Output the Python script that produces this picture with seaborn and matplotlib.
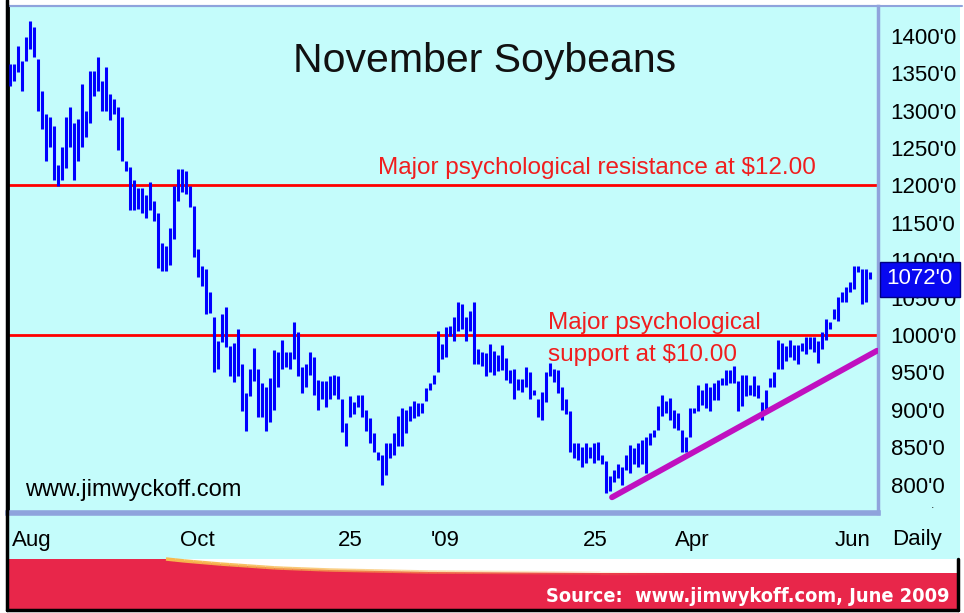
import numpy as np
import matplotlib
matplotlib.use("Agg")
import matplotlib.pyplot as plt
import seaborn as sns
from matplotlib.patches import Rectangle, Polygon
from matplotlib.lines import Line2D
from matplotlib.collections import LineCollection
from matplotlib.transforms import blended_transform_factory
from matplotlib import font_manager
from matplotlib.font_manager import FontProperties

# ---------------- data (daily bars, Aug 2008 - Jun 2009) ----------------
highs = [1362, 1362, 1387, 1367, 1399, 1420, 1412, 1369, 1327, 1296,
         1292, 1279, 1227, 1252, 1292, 1305, 1283, 1289, 1336, 1300,
         1353, 1353, 1372, 1340, 1359, 1322, 1316, 1305, 1292, 1233,
         1225, 1207, 1196, 1196, 1187, 1205, 1179, 1163, 1123, 1119,
         1143, 1199, 1222, 1222, 1219, 1199, 1172, 1115, 1092, 1088,
         1057, 1024, 992, 1028, 1037, 985, 990, 1008, 961, 923,
         954, 983, 954, 936, 931, 943, 980, 977, 994, 977,
         977, 1017, 1004, 957, 961, 977, 970, 940, 938, 938,
         945, 947, 945, 914, 883, 918, 911, 920, 920, 900,
         889, 869, 843, 839, 856, 856, 869, 892, 903, 900,
         905, 912, 909, 909, 929, 936, 947, 1005, 988, 1011,
         1012, 1024, 1044, 1041, 1024, 1032, 1044, 981, 977, 976,
         988, 979, 973, 987, 969, 953, 955, 941, 941, 957,
         950, 927, 914, 924, 950, 963, 955, 953, 931, 914,
         898, 856, 856, 850, 856, 850, 856, 857, 840, 831,
         811, 820, 827, 823, 840, 853, 849, 856, 860, 863,
         869, 873, 905, 920, 912, 916, 900, 896, 873, 863,
         903, 903, 933, 927, 936, 930, 936, 940, 943, 953,
         953, 959, 938, 947, 947, 933, 945, 933, 911, 927,
         943, 950, 994, 990, 985, 994, 987, 987, 990, 998,
         998, 997, 992, 1004, 1021, 1017, 1035, 1051, 1057, 1064,
         1071, 1092, 1092, 1088, 1088, 1084]
lows = [1333, 1340, 1352, 1327, 1367, 1383, 1372, 1300, 1276, 1233,
        1252, 1207, 1199, 1207, 1223, 1252, 1207, 1233, 1252, 1265,
        1283, 1319, 1327, 1300, 1300, 1287, 1296, 1247, 1233, 1220,
        1167, 1167, 1169, 1163, 1156, 1167, 1153, 1089, 1085, 1085,
        1093, 1128, 1179, 1191, 1188, 1171, 1105, 1077, 1065, 1028,
        1030, 951, 954, 991, 984, 945, 937, 945, 899, 871,
        918, 938, 891, 891, 871, 884, 900, 930, 954, 957,
        954, 968, 945, 923, 931, 947, 920, 900, 914, 904,
        914, 920, 914, 870, 851, 891, 894, 904, 891, 871,
        856, 843, 833, 799, 813, 836, 839, 852, 852, 869,
        885, 889, 892, 896, 912, 927, 934, 950, 968, 971,
        999, 992, 1005, 1008, 992, 1005, 961, 961, 958, 945,
        950, 947, 952, 953, 940, 936, 914, 927, 924, 931,
        914, 920, 891, 887, 911, 945, 937, 923, 900, 894,
        844, 836, 833, 823, 829, 836, 829, 833, 827, 789,
        791, 803, 809, 800, 819, 816, 827, 823, 827, 816,
        853, 863, 873, 892, 896, 886, 876, 873, 843, 843,
        863, 896, 898, 907, 903, 898, 913, 913, 933, 933,
        936, 936, 899, 905, 919, 920, 919, 916, 887, 901,
        930, 930, 954, 954, 965, 971, 967, 961, 978, 974,
        981, 977, 963, 981, 994, 1008, 1021, 1019, 1044, 1044,
        1057, 1061, 1084, 1041, 1044, 1075]
last_price = 1072
resistance = 1200
support = 1000
trend_x = [150.5, 216.75]          # bar index
trend_y = [783, 979]               # price
y_ticks = [800, 850, 900, 950, 1000, 1050, 1100, 1150, 1200, 1250,
           1300, 1350, 1400]
tick_pos = [5.5, 46.75, 85, 108.75, 146.25, 170.5, 210.75]
tick_labels = ["Aug", "Oct", "25", "'09", "25", "Apr", "Jun"]

# ---------------- style ----------------
sns.set_style("white")
plt.rcParams["font.family"] = ["Liberation Sans", "DejaVu Sans"]


def find_narrow(bold):
    best = None
    for f in font_manager.fontManager.ttflist:
        n = (f.name + " " + f.fname).lower()
        if ("narrow" in n or "condensed" in n) and "italic" not in n and "oblique" not in n:
            is_bold = f.weight in (700, "bold") or "bold" in n
            if is_bold == bold:
                score = 0 if "liberation" in n else 1
                if best is None or score < best[0]:
                    best = (score, f.fname)
    if best:
        return FontProperties(fname=best[1])
    return FontProperties(family="Liberation Sans", weight="bold" if bold else "normal")


NARROW_B = find_narrow(True)

W, H = 964, 613
CYAN = "#C4FCFB"
SPINE = "#8FA3DC"
fig = plt.figure(figsize=(W / 100, H / 100), dpi=100, facecolor="white")


def fx(px):
    return px / W


def fy(py):
    return 1 - py / H


def frect(x0, y0, x1, y1, **kw):
    r = Rectangle((fx(x0), fy(y1)), (x1 - x0) / W, (y1 - y0) / H,
                  transform=fig.transFigure, **kw)
    fig.add_artist(r)
    return r


# backgrounds
frect(8, 5, 960, 559, facecolor=CYAN, edgecolor="none", zorder=-10)
frect(8, 559, 958, 609, facecolor="#E8264A", edgecolor="none", zorder=-9)

# white swoosh in banner
sx = np.array([166, 185, 220, 277, 330, 430, 600, 958])
sy = np.array([559, 561, 564, 568, 570, 572, 573, 573])
poly_pts = [(fx(166), fy(559)), (fx(958), fy(559))] + \
    [(fx(a), fy(b)) for a, b in zip(sx[::-1], sy[::-1])]
fig.add_artist(Polygon(poly_pts, closed=True, transform=fig.transFigure,
                       facecolor="white", edgecolor="none", zorder=-8))
ex = np.linspace(166, 700, 60)
ey = np.interp(ex, sx, sy)
segs = [[(fx(ex[i]), fy(ey[i])), (fx(ex[i + 1]), fy(ey[i + 1]))] for i in range(len(ex) - 1)]
alphas = np.linspace(1, 0, len(segs))
cols = [(0.97, 0.72, 0.30, a) for a in alphas]
fig.add_artist(LineCollection(segs, colors=cols, linewidths=2.5,
                              transform=fig.transFigure, zorder=-7))

# black frame
for (x0, y0, x1, y1) in [(7, 0, 7, 610), (7, 610, 958, 610), (958, 559, 958, 610)]:
    fig.add_artist(Line2D([fx(x0), fx(x1)], [fy(y0), fy(y1)], color="black",
                          lw=2.5, transform=fig.transFigure, zorder=20))
fig.add_artist(Line2D([fx(8), fx(962)], [fy(6), fy(6)], color=SPINE, lw=1.5,
                      transform=fig.transFigure, zorder=5))

# ---------------- main axes ----------------
ax = fig.add_axes([fx(8), fy(513), (878 - 8) / W, (513 - 6) / H])
ax.set_facecolor(CYAN)
idx = np.arange(len(highs))
ax.vlines(idx, lows, highs, color="#0000FF", lw=2.2, zorder=3)
ax.axhline(resistance, color="#FF0000", lw=2.0, zorder=2)
ax.axhline(support, color="#FF0000", lw=2.0, zorder=2)
sns.lineplot(x=trend_x, y=trend_y, ax=ax, color="#C010C0", lw=4.2, zorder=4)

ax.set_xlim(-0.5, 217)
ax.set_ylim(762, 1440)

ax.yaxis.tick_right()
ax.set_yticks(y_ticks)
ax.set_yticklabels([f"{v}'0" for v in y_ticks])
ax.tick_params(axis="y", length=0, pad=9, labelsize=16, labelcolor="black")
ax.set_xticks(tick_pos)
ax.set_xticklabels(tick_labels)
ax.tick_params(axis="x", length=0, pad=12, labelsize=16, labelcolor="black")

for sp in ax.spines.values():
    sp.set_visible(True)
ax.spines["left"].set_color("black")
ax.spines["left"].set_linewidth(2.0)
ax.spines["top"].set_color(SPINE)
ax.spines["top"].set_linewidth(1.5)
ax.spines["right"].set_color(SPINE)
ax.spines["right"].set_linewidth(2.5)
ax.spines["bottom"].set_color(SPINE)
ax.spines["bottom"].set_linewidth(4)

# texts
fig.text(fx(485), fy(61), "November Soybeans", ha="center", va="center",
         fontsize=29.5, color="#111111")
red = "#F01E1E"
fig.text(fx(378), fy(168), "Major psychological resistance at $12.00",
         ha="left", va="center", fontsize=17.5, color=red)
fig.text(fx(548), fy(323), "Major psychological", ha="left", va="center",
         fontsize=17.5, color=red)
fig.text(fx(548), fy(355), "support at $10.00", ha="left", va="center",
         fontsize=17.5, color=red)
fig.text(fx(25), fy(490), "www.jimwyckoff.com", ha="left", va="center",
         fontsize=17, color="black")
fig.text(fx(892), fy(540), "Daily", ha="left", va="center",
         fontsize=16, color="black")
src = fig.text(fx(950), fy(597), "Source:  www.jimwykoff.com, June 2009",
               ha="right", va="center", fontproperties=NARROW_B, color="white")
src.set_fontsize(18)
fig.text(fx(933), fy(505), ".", ha="center", va="center", fontsize=9)

# fit the source line to the reference width
renderer = fig.canvas.get_renderer()
w = src.get_window_extent(renderer).width
src.set_fontsize(src.get_fontsize() * 402 / w)

# last price box
bt = blended_transform_factory(fig.transFigure, ax.transData)
box = Rectangle((fx(880), last_price - 21), (960 - 880) / W, 47, transform=bt,
                facecolor="#0808F0", edgecolor="#000080", lw=1, zorder=30)
fig.add_artist(box)
fig.text(fx(919), last_price + 3, f"{last_price}'0", transform=bt,
         ha="center", va="center", fontsize=16, color="white", zorder=31)

fig.savefig("out.png", dpi=100, facecolor=fig.get_facecolor())
